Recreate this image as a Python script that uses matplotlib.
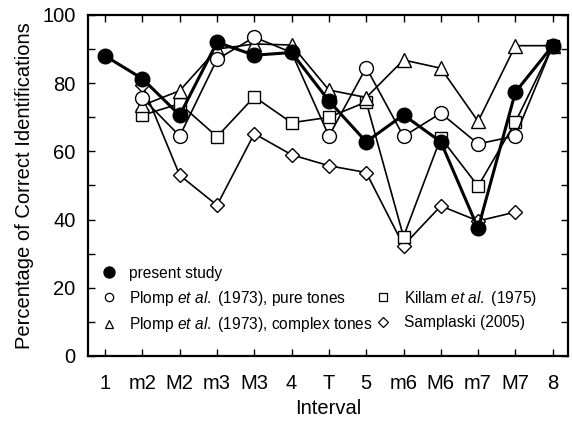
import matplotlib
matplotlib.use("Agg")
import matplotlib.pyplot as plt
from matplotlib.lines import Line2D
import numpy as np

plt.rcParams['font.family'] = ['Liberation Sans', 'DejaVu Sans']
plt.rcParams['mathtext.fontset'] = 'custom'
plt.rcParams['mathtext.rm'] = 'Liberation Sans'
plt.rcParams['mathtext.it'] = 'Liberation Sans:italic'

intervals = ["1", "m2", "M2", "m3", "M3", "4", "T", "5", "m6", "M6", "m7", "M7", "8"]

present = [88, 81.3, 70.6, 92, 88.2, 89, 74.8, 62.8, 70.7, 62.8, 37.4, 77.4, 91]
plomp_pure = [None, 75.7, 64.5, 87, 93.5, 89, 64.5, 84.6, 64.4, 71.2, 62.2, 64.5, 91]
plomp_complex = [None, 73.5, 77.8, 90, 91.5, 91.2, 78, 75.8, 86.8, 84.4, 68.8, 91, 91]
killam = [None, 70.6, 74, 64.3, 76, 68.4, 70, 74.5, 35, 64, 49.8, 68.6, 91]
samplaski = [None, 79.5, 53, 44.2, 65.2, 59, 55.8, 53.8, 32.4, 44, 39.6, 42.2, None]

labels = ["present study",
          "Plomp $\\it{et\\ al.}$ (1973), pure tones",
          "Plomp $\\it{et\\ al.}$ (1973), complex tones",
          "Killam $\\it{et\\ al.}$ (1975)",
          "Samplaski (2005)"]

fig = plt.figure(figsize=(5.72, 4.21), dpi=100)
ax = fig.add_axes([0.1538, 0.1544, 0.8392, 0.81])

x = np.arange(len(intervals))

def series(vals):
    xs = [xi for xi, v in zip(x, vals) if v is not None]
    ys = [v for v in vals if v is not None]
    return xs, ys

common = dict(color='black', markerfacecolor='white', markeredgecolor='black',
              markeredgewidth=1.0, linewidth=1.2)
xs, ys = series(samplaski)
ax.plot(xs, ys, marker='D', markersize=7.5, zorder=2, **common)
xs, ys = series(killam)
ax.plot(xs, ys, marker='s', markersize=9, zorder=2, **common)
xs, ys = series(plomp_complex)
ax.plot(xs, ys, marker='^', markersize=9.5, zorder=2, **common)
xs, ys = series(plomp_pure)
ax.plot(xs, ys, marker='o', markersize=10, zorder=2, **common)
xs, ys = series(present)
ax.plot(xs, ys, marker='o', markersize=10.5, color='black', linewidth=2.2, zorder=3)

ax.set_xlim(-0.46, 12.41)
ax.set_ylim(0, 100)
ax.set_xticks(x)
ax.set_xticklabels(intervals)
ax.set_yticks(np.arange(0, 101, 20))
ax.set_yticks(np.arange(0, 101, 10), minor=True)
ax.tick_params(axis='both', which='both', direction='in', top=True, right=True,
               length=5, width=1, labelsize=14.5)
ax.tick_params(axis='x', which='major', pad=13)
ax.tick_params(axis='y', which='major', pad=9)
ax.tick_params(axis='x', which='minor', bottom=False, top=False)
for s in ax.spines.values():
    s.set_linewidth(1.6)

ax.set_xlabel("Interval", fontsize=14.5, labelpad=4)
ax.set_ylabel("Percentage of Correct Identifications", fontsize=14.5, labelpad=6)

mk = dict(color='black', linestyle='none', markeredgecolor='black', markeredgewidth=0.9)
h_present = Line2D([], [], marker='o', markersize=8, markerfacecolor='black', **mk)
h_pure = Line2D([], [], marker='o', markersize=6, markerfacecolor='white', **mk)
h_complex = Line2D([], [], marker='^', markersize=6, markerfacecolor='white', **mk)
h_killam = Line2D([], [], marker='s', markersize=6, markerfacecolor='white', **mk)
h_samp = Line2D([], [], marker='D', markersize=5, markerfacecolor='white', **mk)
h_blank = Line2D([], [], linestyle='none', marker=None)

leg = ax.legend([h_present, h_pure, h_complex, h_blank, h_killam, h_samp],
                [labels[0], labels[1], labels[2], "", labels[3], labels[4]],
                ncol=2, loc='lower left', bbox_to_anchor=(0.014, 0.045),
                frameon=False, fontsize=11.2, handlelength=1.0, handletextpad=0.8,
                labelspacing=0.5, columnspacing=0.2, borderaxespad=0)

fig.savefig("out.png", dpi=100)
